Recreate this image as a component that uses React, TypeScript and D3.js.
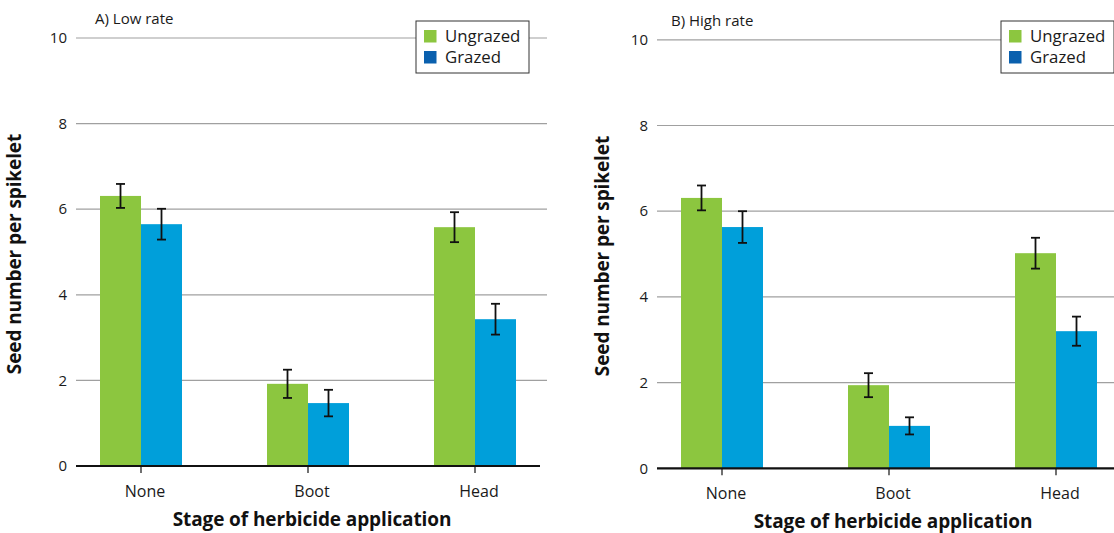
import React from "react";
import * as d3 from "d3";

const stages = ["None", "Boot", "Head"];
const seriesNames = ["Ungrazed", "Grazed"];

// Mean seed number per spikelet and standard errors
const lowUngrazed = [6.31, 1.92, 5.58];
const lowGrazed = [5.65, 1.47, 3.43];
const lowUngrazedErr = [0.28, 0.33, 0.35];
const lowGrazedErr = [0.36, 0.31, 0.36];

const highUngrazed = [6.31, 1.94, 5.02];
const highGrazed = [5.63, 0.99, 3.2];
const highUngrazedErr = [0.29, 0.28, 0.36];
const highGrazedErr = [0.37, 0.2, 0.34];

const yTicks = [0, 2, 4, 6, 8, 10];

const barColors = ["#8cc63f", "#009fda"];
const legendColors = ["#8cc63f", "#0a60ae"];
const FONT = "'Open Sans', 'Noto Sans', sans-serif";

type PanelProps = {
  title: string;
  ungrazed: number[];
  grazed: number[];
  ungrazedErr: number[];
  grazedErr: number[];
  centers: [number, number];
  yRange: [number, number];
  gridX: [number, number];
  axisX: [number, number];
  legendX: number;
  titleX: number;
  yTitleX: number;
  xTitleY: number;
};

function Panel(p: PanelProps) {
  const x = d3.scalePoint<string>().domain(stages).range(p.centers);
  const barW = 41;
  const xs = d3.scaleBand<string>().domain(seriesNames).range([-barW, barW]);
  const y = d3.scaleLinear().domain([0, 10]).range(p.yRange);
  const values = [p.ungrazed, p.grazed];
  const errs = [p.ungrazedErr, p.grazedErr];
  const y0 = y(0);
  const midX = (p.centers[0] + p.centers[1]) / 2;
  const midY = (p.yRange[0] + p.yRange[1]) / 2;

  return (
    <g fontFamily={FONT}>
      {yTicks.filter((t) => t > 0).map((t) => (
        <line key={t} x1={p.gridX[0]} x2={p.gridX[1]} y1={y(t)} y2={y(t)} stroke="#a0a0a0" strokeWidth={1.2} />
      ))}
      {yTicks.map((t) => (
        <text key={"l" + t} x={p.gridX[0] - 9} y={y(t)} dy="0.35em" textAnchor="end" fontSize={15} fill="#1a1a1a">
          {t}
        </text>
      ))}
      {seriesNames.map((s, si) =>
        stages.map((c, ci) => {
          const v = values[si][ci];
          const bx = (x(c) as number) + (xs(s) as number);
          return (
            <rect key={s + c} x={bx} y={y(v)} width={xs.bandwidth()} height={y0 - y(v)} fill={barColors[si]} />
          );
        })
      )}
      {seriesNames.map((s, si) =>
        stages.map((c, ci) => {
          const v = values[si][ci];
          const e = errs[si][ci];
          const cx = (x(c) as number) + (xs(s) as number) + xs.bandwidth() / 2;
          return (
            <g key={"e" + s + c} stroke="#111" strokeWidth={1.8}>
              <line x1={cx} x2={cx} y1={y(v + e)} y2={y(v - e)} />
              <line x1={cx - 4.5} x2={cx + 4.5} y1={y(v + e)} y2={y(v + e)} />
              <line x1={cx - 4.5} x2={cx + 4.5} y1={y(v - e)} y2={y(v - e)} />
            </g>
          );
        })
      )}
      <line x1={p.axisX[0]} x2={p.axisX[1]} y1={y0} y2={y0} stroke="#111" strokeWidth={2.2} />
      {stages.map((c) => (
        <g key={"t" + c}>
          <line x1={x(c)} x2={x(c)} y1={y0} y2={y0 + 7} stroke="#111" strokeWidth={1.2} />
          <text x={(x(c) as number) + 4} y={y0 + 31} textAnchor="middle" fontSize={16} fill="#1a1a1a">
            {c}
          </text>
        </g>
      ))}
      <text x={midX + 4} y={p.xTitleY} textAnchor="middle" fontSize={19} fontWeight="bold" fill="#111" letterSpacing={-0.1}>
        Stage of herbicide application
      </text>
      <text
        transform={`translate(${p.yTitleX},${midY + 2}) rotate(-90)`}
        textAnchor="middle"
        fontSize={19}
        fontWeight="bold"
        fill="#111"
        letterSpacing={-0.1}
      >
        Seed number per spikelet
      </text>
      <text x={p.titleX} y={p.yRange[1] - 14} fontSize={15} fill="#1a1a1a">
        {p.title}
      </text>
      <g transform={`translate(${p.legendX},21)`}>
        <rect x={0} y={0} width={113} height={52} fill="#fff" stroke="#333" strokeWidth={1} />
        {seriesNames.map((s, i) => (
          <g key={"lg" + s} transform={`translate(8,${9 + i * 21})`}>
            <rect x={0} y={0} width={12.5} height={12.5} fill={legendColors[i]} />
            <text x={21} y={12} fontSize={16.8} fill="#1a1a1a">
              {s}
            </text>
          </g>
        ))}
      </g>
    </g>
  );
}

export default function App() {
  return (
    <div style={{ position: "absolute", left: 0, top: 0 }}>
      <svg width={1114} height={533} style={{ display: "block", background: "#fff" }}>
        <Panel
          title="A) Low rate"
          ungrazed={lowUngrazed}
          grazed={lowGrazed}
          ungrazedErr={lowUngrazedErr}
          grazedErr={lowGrazedErr}
          centers={[141, 475]}
          yRange={[466, 38]}
          gridX={[76, 547]}
          axisX={[76, 540]}
          legendX={416}
          titleX={95}
          yTitleX={21}
          xTitleY={526}
        />
        <Panel
          title="B) High rate"
          ungrazed={highUngrazed}
          grazed={highGrazed}
          ungrazedErr={highUngrazedErr}
          grazedErr={highGrazedErr}
          centers={[722, 1056]}
          yRange={[468.3, 39.8]}
          gridX={[657, 1114]}
          axisX={[657, 1114]}
          legendX={1001}
          titleX={671}
          yTitleX={609}
          xTitleY={528}
        />
      </svg>
    </div>
  );
}
